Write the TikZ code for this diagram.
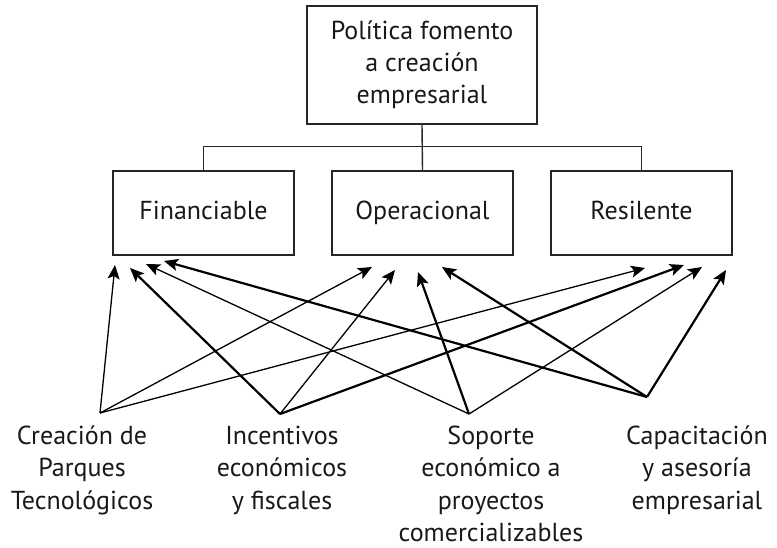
\documentclass[tikz,border=0pt]{standalone}
\usepackage{fontspec}
\setmainfont{PT Sans}
\usetikzlibrary{calc,arrows.meta}
\def\boxsep{219}
\def\boxrow{-213}
\tikzstyle{arrow} = [->,>={Stealth[length=14pt,width=12pt,inset=3pt]}]

\begin{document}
\begin{tikzpicture}[x=1pt,y=1pt]
    \tikzstyle{crit box}=[draw=black!85, line width=1.4pt, minimum width=181pt, minimum height=84pt, inner sep=0pt, text height=19pt, text depth=6pt, text=black!90, font=\fontsize{26}{32}\selectfont]
    \tikzstyle{top box}=[crit box, minimum width=230pt, minimum height=118pt, text height=, text depth=, align=center]
    \tikzstyle{source}=[align=center, anchor=base, inner sep=0pt, text=black!90, font=\fontsize{26}{32.5}\selectfont]
    \tikzstyle{thin arrow}=[arrow, line width=1.3pt]
    \tikzstyle{thick arrow}=[arrow, line width=2.2pt]

    \useasboundingbox (0,0) rectangle (777,-548);

    % Draw the policy box
    \node[top box] (P) at (422,-65) {Política fomento\\a creación\\empresarial};

    % Draw the criteria boxes
    \foreach \name / \i / \txt in {F/0/Financiable, O/1/Operacional, R/2/Resilente}
        \path node[crit box] (C-\name) at ({203.5+\i*\boxsep},\boxrow) {\txt};

    % Draw the tree connector
    \coordinate (bus) at ($(P.south)+(0,-22)$);
    \draw[line width=1.4pt, draw=black!85] (C-F.north) -- (C-F.north |- bus) -- (C-R.north |- bus) -- (C-R.north);
    \draw[line width=1.4pt, draw=black!85] (P.south) -- (C-O.north);

    % Draw the source texts (base = last line)
    \foreach \name / \x / \y / \txt in {1/82/509/{Creación de\\Parques\\Tecnológicos}, 2/282/509/{Incentivos\\económicos\\y fiscales}, 3/491/541.5/{Soporte\\económico a\\proyectos\\comercializables}, 4/697/509/{Capacitación\\y asesoría\\empresarial}}
        \path node[source] (S-\name) at (\x,-\y) {\txt};

    % Arrow start and end points
    \foreach \name / \x / \y in {1/100/413, 2/280/414, 3/469/414, 4/647/397}
        \coordinate (A-\name) at (\x,-\y);
    \foreach \name / \x / \y in {F-1/115/265, F-2/130/268, F-3/146/264, F-4/164/261, O-1/372/267, O-2/395/270, O-3/418/272, O-4/442/267, R-1/645/268, R-2/684/265, R-3/702/267, R-4/726/270}
        \coordinate (T-\name) at (\x,-\y);

    % Draw the arrows
    \foreach \s / \t in {1/F-1, 3/F-3, 1/O-1, 2/O-2, 1/R-1, 3/R-3}
        \draw[thin arrow] (A-\s) -- (T-\t);
    \foreach \s / \t in {2/F-2, 4/F-4, 3/O-3, 4/O-4, 2/R-2, 4/R-4}
        \draw[thick arrow] (A-\s) -- (T-\t);
\end{tikzpicture}
\end{document}
